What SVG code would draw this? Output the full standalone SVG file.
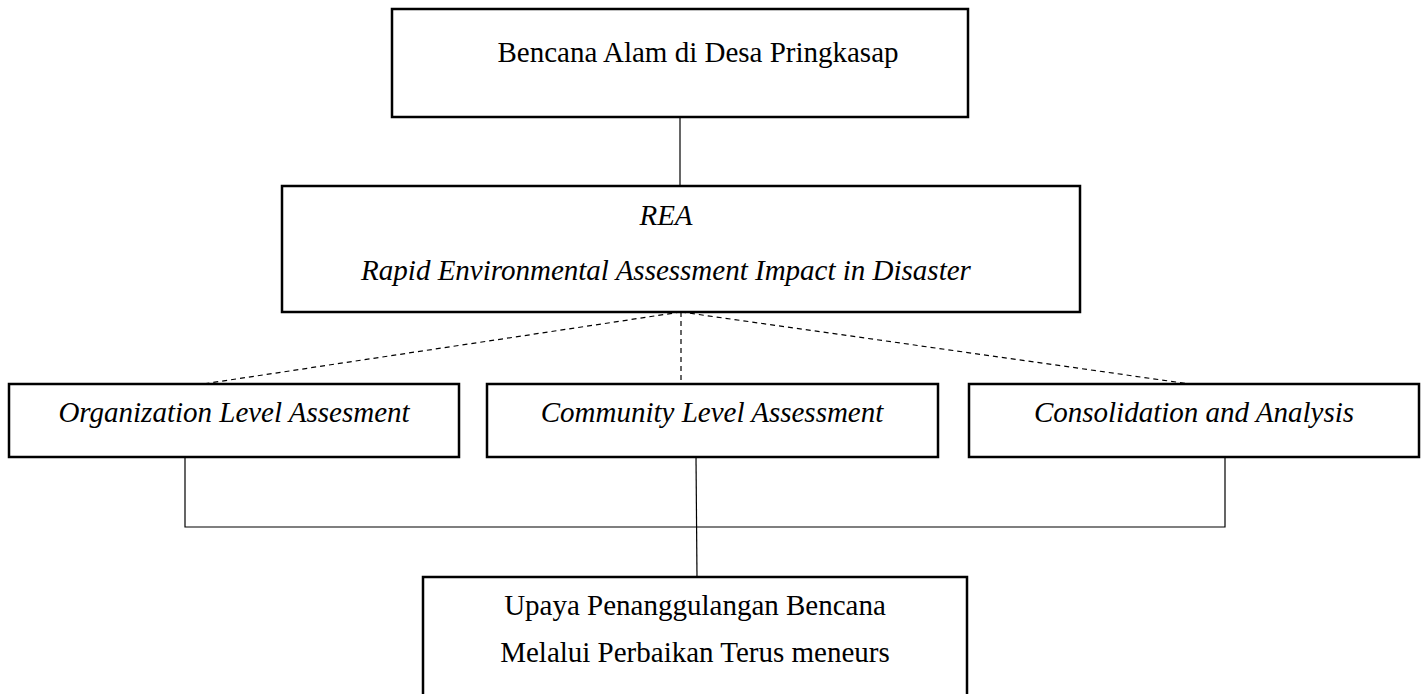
<svg xmlns="http://www.w3.org/2000/svg" width="1424" height="694" viewBox="0 0 1424 694">
<style>
.box{fill:#fff;stroke:#000;stroke-width:2.5}
.t{font-family:"Liberation Serif","Times New Roman",serif;font-size:29px;fill:#000;text-anchor:middle}
.i{font-style:italic}
.c{fill:none;stroke:#000;stroke-width:1.2}
.d{fill:none;stroke:#000;stroke-width:1.2;stroke-dasharray:5,4}
</style>
<rect width="1424" height="694" fill="#fff"/>
<g id="connectors">
<line class="c" x1="680" y1="117" x2="680" y2="186"/>
<line class="d" x1="681" y1="312" x2="203" y2="384"/>
<line class="d" x1="681" y1="312" x2="681" y2="384"/>
<line class="d" x1="681" y1="312" x2="1190" y2="384"/>
<polyline class="c" points="185,457 185,527 1225,527 1225,457"/>
<line class="c" x1="696" y1="457" x2="697" y2="577"/>
</g>
<g id="n1">
<rect class="box" x="392" y="9" width="576" height="108"/>
<text class="t" x="698" y="62">Bencana Alam di Desa Pringkasap</text>
</g>
<g id="n2">
<rect class="box" x="282" y="186" width="798" height="126"/>
<text class="t i" x="666" y="225">REA</text>
<text class="t i" x="666" y="280">Rapid Environmental Assessment Impact in Disaster</text>
</g>
<g id="n3">
<rect class="box" x="9" y="384" width="450" height="73"/>
<text class="t i" x="234" y="422">Organization Level Assesment</text>
</g>
<g id="n4">
<rect class="box" x="487" y="384" width="451" height="73"/>
<text class="t i" x="712" y="422">Community Level Assessment</text>
</g>
<g id="n5">
<rect class="box" x="969" y="384" width="450" height="73"/>
<text class="t i" x="1194" y="422">Consolidation and Analysis</text>
</g>
<g id="n6">
<rect class="box" x="423" y="577" width="544" height="130"/>
<text class="t" x="695" y="615">Upaya Penanggulangan Bencana</text>
<text class="t" x="695" y="662">Melalui Perbaikan Terus meneurs</text>
</g>
</svg>
